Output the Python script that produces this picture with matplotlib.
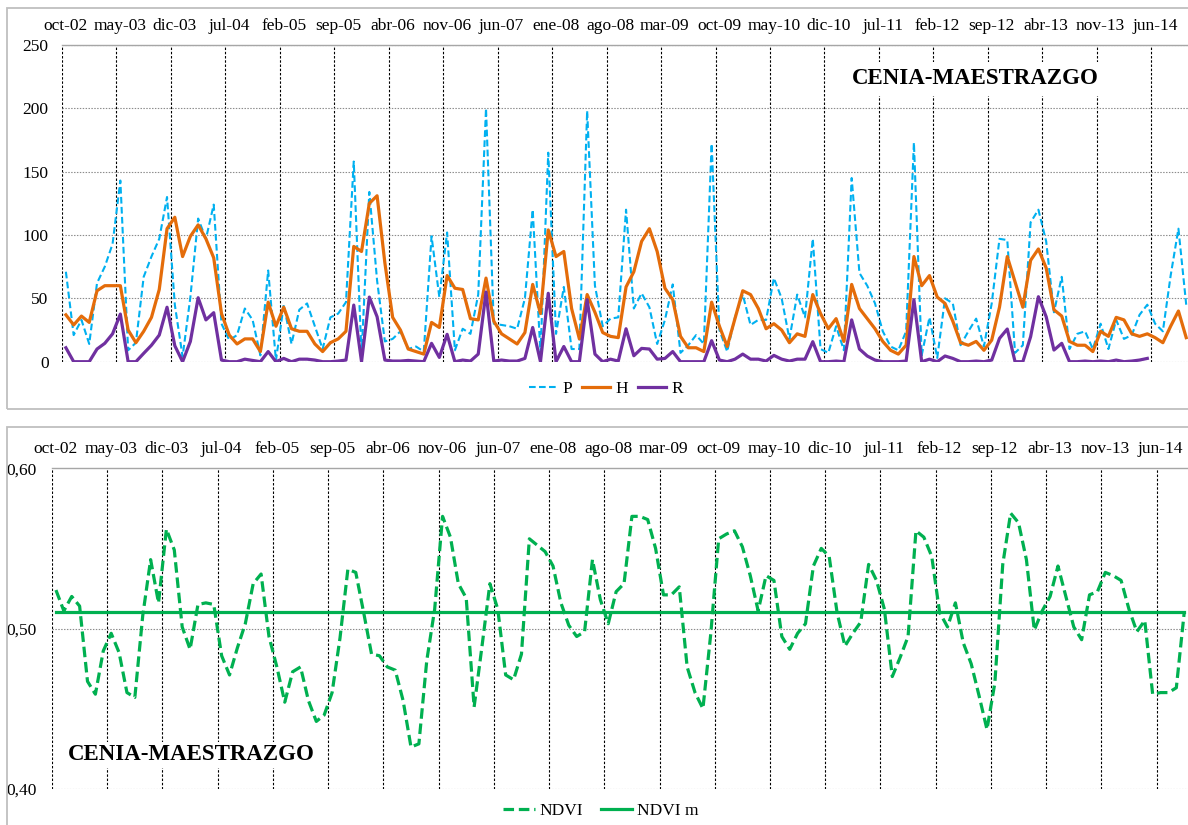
import numpy as np
import matplotlib
matplotlib.use("Agg")
import matplotlib.pyplot as plt
from matplotlib.patches import Rectangle
from matplotlib.lines import Line2D

plt.rcParams['font.family'] = ['Liberation Serif', 'DejaVu Serif']

# ---- data (monthly, oct-02 onwards) ----
month_labels = ["oct-02", "may-03", "dic-03", "jul-04", "feb-05", "sep-05", "abr-06",
                "nov-06", "jun-07", "ene-08", "ago-08", "mar-09", "oct-09", "may-10",
                "dic-10", "jul-11", "feb-12", "sep-12", "abr-13", "nov-13", "jun-14"]

P = [71, 21, 33, 14, 62, 75, 93, 143, 9, 15, 67, 83, 97, 130, 45, 4, 51, 113, 97, 124,
     30, 17, 21, 42, 33, 5, 72, 1, 45, 14, 41, 46, 28, 10, 35, 38, 47, 158, 5, 134,
     64, 16, 18, 24, 10, 12, 8, 99, 51, 102, 9, 26, 22, 53, 200, 30, 29, 28, 26, 50,
     120, 7, 165, 22, 59, 10, 10, 198, 60, 28, 34, 35, 120, 42, 54, 43, 14, 33, 61, 7,
     13, 21, 14, 172, 25, 8, 35, 53, 29, 33, 33, 66, 50, 18, 53, 35, 97, 10, 7, 28,
     9, 145, 70, 60, 46, 24, 12, 9, 24, 173, 5, 35, 3, 50, 46, 13, 24, 34, 12, 46,
     97, 96, 7, 13, 110, 120, 95, 39, 67, 10, 22, 24, 10, 30, 10, 33, 18, 21, 37, 45,
     30, 24, 68, 105, 45]

H = [37, 29, 36, 31, 56, 60, 60, 60, 25, 15, 24, 35, 57, 105, 114, 83, 99, 108, 97, 82,
     38, 21, 14, 18, 18, 8, 47, 28, 43, 26, 24, 24, 14, 8, 15, 18, 24, 91, 87, 125,
     131, 78, 35, 25, 10, 8, 6, 31, 27, 68, 58, 57, 34, 33, 66, 32, 22, 18, 14, 23,
     61, 38, 104, 83, 87, 42, 18, 53, 39, 23, 20, 19, 59, 71, 95, 105, 87, 58, 49, 20,
     11, 11, 8, 47, 28, 12, 34, 56, 53, 42, 26, 30, 25, 15, 22, 20, 53, 38, 26, 34,
     16, 61, 42, 34, 26, 16, 9, 6, 13, 83, 60, 68, 51, 46, 32, 15, 13, 16, 9, 17,
     43, 83, 63, 43, 80, 89, 74, 41, 36, 16, 13, 13, 8, 24, 20, 35, 33, 22, 20, 22,
     19, 15, 28, 40, 19]

R = [11, 0, 0, 0, 10, 14.5, 22, 37.6, 0, 0, 6.6, 13, 21, 43, 12.6, 0, 16, 50.5, 33, 38.7,
     1.3, 0, 0, 2, 1, 0, 8, 0, 2.6, 0, 2, 2, 1.3, 0, 0, 0.5, 1.3, 44.7, 0, 51,
     35.5, 1.3, 0.5, 0.5, 1, 0.5, 0, 14.5, 3.4, 21.6, 0, 1.3, 0.5, 6, 55, 0.5, 1.3, 0.5, 0.5, 2.6,
     27, 0, 54, 0, 12, 0, 0, 49, 6, 0, 2, 0.5, 26, 4.7, 10.5, 10, 2, 2.6, 8, 0,
     0, 0, 0, 16.6, 1.3, 0, 2, 6, 2, 2, 0.5, 5, 2, 0.5, 2, 2, 15.8, 0, 0, 0.5,
     0, 33, 10, 4.5, 1.3, 0, 0, 0, 0.5, 49, 0, 2, 0, 4.5, 2.6, 0, 0, 0.5, 0, 1.3,
     18.4, 25.8, 0, 0, 19.7, 51.3, 35.5, 9.2, 14.5, 0, 0, 0.5, 0, 0.5, 0, 1.3, 0, 0.5, 1.3, 2.6,
     None, None, None, None, None]

NDVI = [0.524, 0.511, 0.520, 0.514, 0.467, 0.459, 0.486, 0.497, 0.485, 0.460,
        0.457, 0.508, 0.543, 0.516, 0.562, 0.549, 0.501, 0.487, 0.515, 0.516,
        0.515, 0.483, 0.471, 0.488, 0.503, 0.528, 0.534, 0.495, 0.476, 0.454,
        0.473, 0.476, 0.455, 0.442, 0.446, 0.460, 0.494, 0.537, 0.535, 0.510,
        0.484, 0.483, 0.476, 0.474, 0.455, 0.426, 0.428, 0.480, 0.512, 0.570,
        0.557, 0.528, 0.519, 0.451, 0.489, 0.528, 0.512, 0.471, 0.468, 0.484,
        0.556, 0.552, 0.548, 0.539, 0.516, 0.502, 0.495, 0.498, 0.543, 0.518,
        0.503, 0.523, 0.528, 0.570, 0.570, 0.568, 0.550, 0.521, 0.521, 0.526,
        0.476, 0.460, 0.450, 0.497, 0.556, 0.559, 0.561, 0.551, 0.533, 0.511,
        0.533, 0.530, 0.495, 0.487, 0.497, 0.503, 0.539, 0.550, 0.545, 0.510,
        0.489, 0.497, 0.504, 0.540, 0.530, 0.512, 0.470, 0.482, 0.495, 0.561,
        0.557, 0.545, 0.510, 0.501, 0.516, 0.491, 0.478, 0.458, 0.437, 0.466,
        0.540, 0.572, 0.566, 0.543, 0.499, 0.511, 0.520, 0.539, 0.520, 0.501,
        0.493, 0.521, 0.523, 0.535, 0.533, 0.530, 0.512, 0.498, 0.505, 0.459,
        0.460, 0.460, 0.463, 0.510]
NDVI_MEAN = 0.51

# ---- styling ----
C_P, C_H, C_R, C_N = "#00B0F0", "#E46C0A", "#7030A0", "#00B050"
FRAME = "#BFBFBF"
W, HGT = 1188, 825
FS = 12.5


def fx(px):
    return px / W


def fy(py):
    return 1 - py / HGT


fig = plt.figure(figsize=(W / 100, HGT / 100), dpi=100)

# chart frames
fig.patches.append(Rectangle((fx(6.5), fy(408.5)), fx(1200) - fx(6.5), fy(7.5) - fy(408.5),
                             transform=fig.transFigure, fill=False, ec=FRAME, lw=1.3))
fig.patches.append(Rectangle((fx(6.5), fy(840)), fx(1200) - fx(6.5), fy(427.3) - fy(840),
                             transform=fig.transFigure, fill=False, ec=FRAME, lw=1.3))


def style_axes(ax, n_cat, ylim, yticks, ylabels, ypad):
    ax.set_xlim(-0.5, n_cat - 0.5)
    ax.set_ylim(*ylim)
    for s in ("left", "right", "bottom"):
        ax.spines[s].set_visible(False)
    ax.spines["top"].set_color("#A6A6A6")
    ax.spines["top"].set_linewidth(1.0)
    ax.xaxis.tick_top()
    ax.set_xticks(np.arange(0, 141, 7))
    ax.set_xticklabels(month_labels, fontsize=FS)
    ax.tick_params(axis="x", length=0, pad=7.8)
    ax.set_yticks(yticks)
    ax.set_yticklabels(ylabels, fontsize=FS)
    ax.tick_params(axis="y", length=0, pad=ypad)
    for k in range(21):
        ax.axvline(-0.5 + 7 * k, color="black", lw=0.8, ls=(0, (2.2, 1.6)), zorder=1)
    ax.patch.set_alpha(0)


# ---- top panel: P, H, R ----
sp = 7.78
ax1 = fig.add_axes([fx(62), fy(361.7), fx(62 + 145 * sp) - fx(62), fy(45) - fy(361.7)])
style_axes(ax1, 145, (0, 250), [0, 50, 100, 150, 200, 250],
           ["0", "50", "100", "150", "200", "250"], 9.6)
for yv in [0, 50, 100, 150, 200, 250]:
    ax1.axhline(yv, color="#8C8C8C", lw=0.8, ls=(0, (1.3, 1.3)), zorder=1)

x_top = np.arange(len(P))
Rv = np.array([np.nan if v is None else v for v in R], dtype=float)
ax1.plot(x_top, P, color=C_P, lw=1.5, ls=(0, (3.2, 1.6)), zorder=3)
ax1.plot(x_top, H, color=C_H, lw=2.3, zorder=4, solid_joinstyle="round")
ax1.plot(x_top, Rv, color=C_R, lw=2.3, zorder=5, solid_joinstyle="round")

ax1.text(fx(975), fy(79), "CENIA-MAESTRAZGO", transform=fig.transFigure,
         ha="center", va="center", fontsize=16.5, fontweight="bold",
         bbox=dict(boxstyle="square,pad=0.3", fc="white", ec="none"), zorder=6)

handles = [Line2D([], [], color=C_P, lw=1.5, ls=(0, (3.2, 1.6))),
           Line2D([], [], color=C_H, lw=2.3),
           Line2D([], [], color=C_R, lw=2.3)]
fig.legend(handles, ["P", "H", "R"], loc="center", bbox_to_anchor=(fx(606), fy(389)),
           ncol=3, frameon=False, fontsize=FS, handlelength=1.6, handletextpad=0.3,
           columnspacing=0.6)

# ---- bottom panel: NDVI ----
spn = 7.89
ax2 = fig.add_axes([fx(52), fy(788.7), fx(52 + 144 * spn) - fx(52), fy(468.3) - fy(788.7)])
style_axes(ax2, 144, (0.40, 0.60), [0.40, 0.50, 0.60], ["0,40", "0,50", "0,60"], 11)
for yv in [0.40, 0.50]:
    ax2.axhline(yv, color="#8C8C8C", lw=0.8, ls=(0, (1.3, 1.3)), zorder=1)

x_bot = np.arange(len(NDVI))
ax2.plot(x_bot, NDVI, color=C_N, lw=2.3, ls=(0, (3.3, 1.5)), zorder=3)
ax2.plot(x_bot, np.full(len(NDVI), NDVI_MEAN), color=C_N, lw=2.3, zorder=4)

ax2.text(fx(191.7), fy(755), "CENIA-MAESTRAZGO", transform=fig.transFigure,
         ha="center", va="center", fontsize=16.5, fontweight="bold",
         bbox=dict(boxstyle="square,pad=0.1", fc="white", ec="none"), zorder=6)

handles2 = [Line2D([], [], color=C_N, lw=2.3, ls=(0, (3.3, 1.5))),
            Line2D([], [], color=C_N, lw=2.3)]
fig.legend(handles2, ["NDVI", "NDVI m"], loc="center", bbox_to_anchor=(fx(601), fy(811)),
           ncol=2, frameon=False, fontsize=FS, handlelength=1.8, handletextpad=0.3,
           columnspacing=1.0)

fig.savefig("out.png", dpi=100)
